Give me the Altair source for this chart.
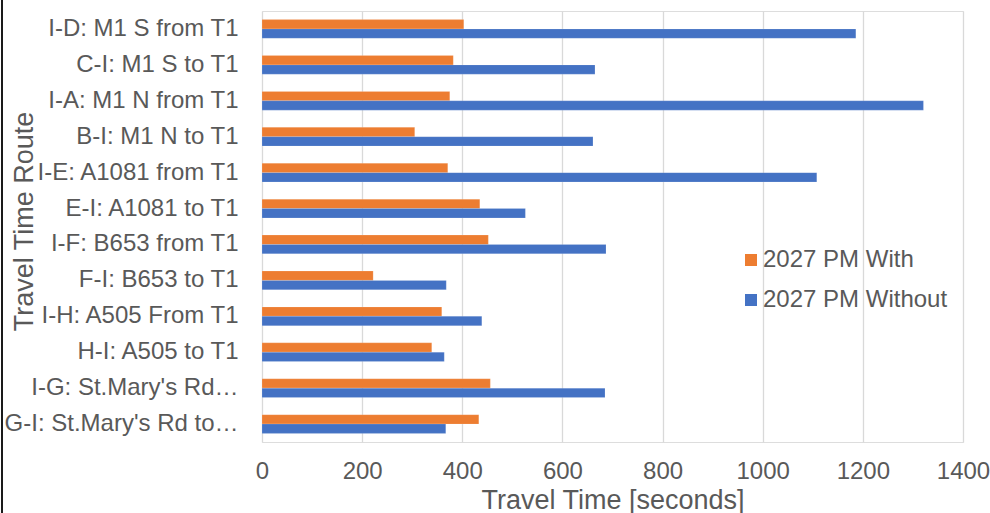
import altair as alt
import pandas as pd

routes = [
    "I-D: M1 S from T1", "C-I: M1 S to T1", "I-A: M1 N from T1", "B-I: M1 N to T1",
    "I-E: A1081 from T1", "E-I: A1081 to T1", "I-F: B653 from T1", "F-I: B653 to T1",
    "I-H: A505 From T1", "H-I: A505 to T1", "I-G: St.Mary's Rd…", "G-I: St.Mary's Rd to…",
]
series = ["2027 PM With", "2027 PM Without"]
with_vals = [403, 382, 375, 305, 371, 435, 452, 222, 359, 339, 456, 433]
without_vals = [1186, 665, 1321, 661, 1108, 526, 687, 368, 439, 364, 685, 367]
colors = ["#ED7D31", "#4472C4"]
x_ticks = [0, 200, 400, 600, 800, 1000, 1200, 1400]

rows = []
for r, a, b in zip(routes, with_vals, without_vals):
    rows.append({"route": r, "series": series[0], "value": a})
    rows.append({"route": r, "series": series[1], "value": b})
df = pd.DataFrame(rows)

FONT = "Liberation Sans"
GREY = "#595959"

bars = alt.Chart(df).mark_bar(stroke="#ffffff", strokeOpacity=0.25, strokeWidth=0.6).encode(
    y=alt.Y("route:N", sort=routes,
            scale=alt.Scale(paddingInner=0.48, paddingOuter=0.24),
            axis=alt.Axis(title="Travel Time Route", ticks=False, domain=False,
                          labelPadding=24, labelFontSize=24, labelColor=GREY, labelFont=FONT,
                          labelLimit=300,
                          titleFontSize=27, titleColor=GREY, titleFont=FONT, titleFontWeight="normal",
                          titleX=-230, titleY=210, titleAngle=270, titleBaseline="alphabetic",
                          titleAlign="center")),
    yOffset=alt.YOffset("series:N", sort=series),
    x=alt.X("value:Q", scale=alt.Scale(domain=[0, 1400], nice=False),
            axis=alt.Axis(title="Travel Time [seconds]", values=x_ticks, format="d",
                          ticks=False, domain=False, labelPadding=17, labelFlush=False,
                          labelOverlap=False,
                          labelFontSize=24, labelColor=GREY, labelFont=FONT,
                          grid=True, gridColor="#D9D9D9", gridWidth=1.3,
                          titleFontSize=27, titleColor=GREY, titleFont=FONT, titleFontWeight="normal",
                          titleY=66, titleBaseline="alphabetic")),
    color=alt.Color("series:N", sort=series,
                    scale=alt.Scale(domain=series, range=colors),
                    legend=alt.Legend(title=None, orient="none", legendX=477, legendY=237,
                                      symbolType="square", symbolSize=144, symbolStrokeWidth=0,
                                      labelFontSize=24, labelColor=GREY, labelFont=FONT,
                                      labelLimit=400, labelOffset=0, rowPadding=16)),
)

border = alt.Chart(pd.DataFrame({"v": [0]})).mark_rule(color="#1a1a1a", strokeWidth=2).encode(
    x=alt.value(-260), y=alt.value(-11), y2=alt.value(502)
)

chart = alt.layer(bars, border).properties(
    width=701, height=431,
    autosize=alt.AutoSizeParams(type="none"),
    padding={"left": 262, "top": 11, "right": 27, "bottom": 71},
).configure_view(stroke=None).configure(background="white")

chart.save("out.html", embed_options={"renderer": "svg", "actions": False})
